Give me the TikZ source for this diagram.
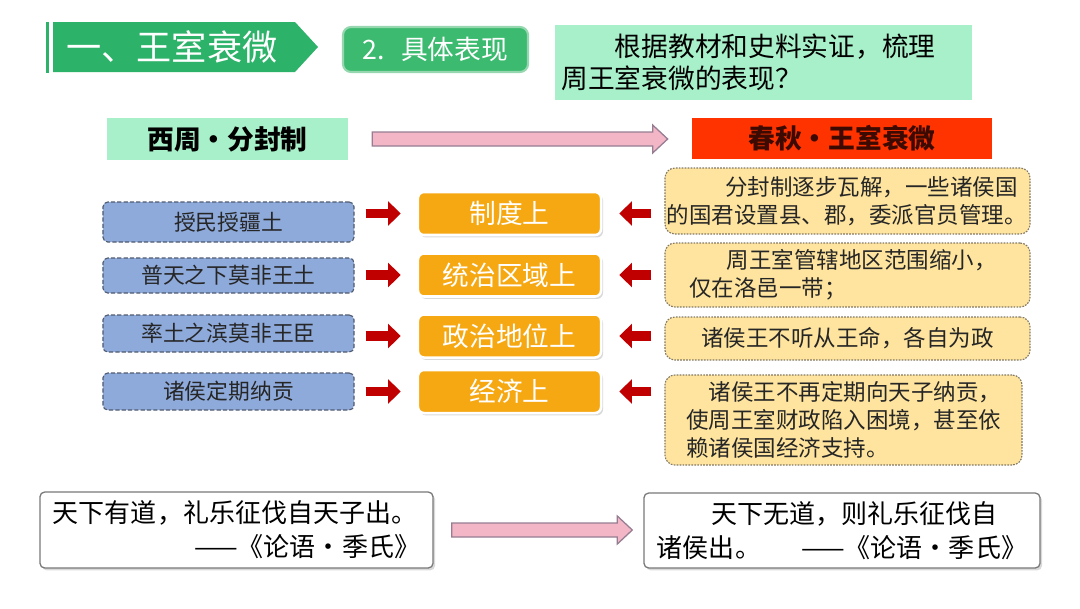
\documentclass[tikz,border=0pt]{standalone}
\usepackage{fontspec}
\setmainfont{Noto Sans CJK SC}
\usetikzlibrary{positioning}
\usetikzlibrary{shapes}
\usetikzlibrary{calc}
\usetikzlibrary{shadows}
\usetikzlibrary{arrows.meta}

\definecolor{hdrgreen}{RGB}{44,178,105}
\definecolor{btngreen}{RGB}{60,186,112}
\definecolor{btnline}{RGB}{150,215,175}
\definecolor{mint}{RGB}{168,240,201}
\definecolor{erared}{RGB}{255,51,0}
\definecolor{eratext}{RGB}{60,10,0}
\definecolor{bluefill}{RGB}{142,170,219}
\definecolor{blueline}{RGB}{80,90,110}
\definecolor{orgfill}{RGB}{246,168,18}
\definecolor{yelfill}{RGB}{254,228,158}
\definecolor{yelline}{RGB}{130,120,100}
\definecolor{arrred}{RGB}{192,0,0}
\definecolor{pinkfill}{RGB}{242,182,199}
\definecolor{pinkline}{RGB}{150,125,145}
\definecolor{quoline}{RGB}{120,120,120}

\begin{document}
\begin{tikzpicture}[x=0.025cm, y=-0.025cm,
redarr/.style={draw=arrred, line width=7pt, -{Triangle[length=9pt,width=17pt]}},
fat/.style 2 args={draw=pinkline, fill=pinkfill, line width=0.9pt,
  to path={let \p1=(\tikztostart), \p2=(\tikztotarget) in
    (\x1+#1,\y1+0.175cm) -- (\x2-#2-0.375cm,\y1+0.175cm) -- (\x2-#2-0.375cm,\y1+0.35cm)
    -- (\x2-#2,\y1) -- (\x2-#2-0.375cm,\y1-0.35cm) -- (\x2-#2-0.375cm,\y1-0.175cm)
    -- (\x1+#1,\y1-0.175cm) -- cycle}}
]

\tikzstyle{btn} = [fill=btngreen, draw=btnline, line width=1.5pt, rounded corners=0.2cm, minimum width=4.625cm, minimum height=1.125cm, text=white, font=\fontsize{19pt}{22pt}\selectfont]
\tikzstyle{ask} = [fill=mint, align=left, text width=10.1cm, inner xsep=0.1625cm, minimum height=1.875cm, font=\fontsize{19pt}{23pt}\selectfont]
\tikzstyle{lab} = [fill=mint, minimum width=6.025cm, minimum height=1.05cm, font=\bfseries\fontsize{19pt}{23pt}\selectfont]
\tikzstyle{era} = [fill=erared, minimum width=7.5cm, minimum height=1.025cm, text=eratext, font=\bfseries\fontsize{19pt}{23pt}\selectfont]
\tikzstyle{blu} = [fill=bluefill, draw=blueline, dash pattern=on 3pt off 1.5pt, line width=0.8pt, rounded corners=0.12cm, minimum width=6.275cm, minimum height=0.925cm, text=black!85, font=\fontsize{15.5pt}{18pt}\selectfont]
\tikzstyle{org} = [fill=orgfill, draw=white, line width=1.8pt, rounded corners=0.15cm, minimum width=4.575cm, minimum height=1.075cm, text=white, drop shadow={shadow xshift=0.05cm, shadow yshift=-0.06cm, opacity=0.3}, font=\fontsize{19pt}{23pt}\selectfont]
\tikzstyle{yel} = [fill=yelfill, draw=yelline, dash pattern=on 1.2pt off 0.9pt, line width=0.8pt, rounded corners=0.25cm, inner xsep=0.05cm, text=black!85, font=\fontsize{16pt}{20pt}\selectfont]
\tikzstyle{quo} = [fill=white, draw=quoline, line width=0.9pt, rounded corners=0.12cm, align=left, inner xsep=0.325cm, drop shadow={shadow xshift=0.05cm, shadow yshift=-0.06cm, opacity=0.3}, font=\fontsize{18.5pt}{24pt}\selectfont]

\useasboundingbox (0,0) rectangle (1080,608);

% title banner
\fill[hdrgreen] (46,22) rectangle (49,73);
\fill[hdrgreen] (53,22) -- (295,22) -- (318,47) -- (295,72) -- (53,72) -- cycle;
\node[text=white, font=\fontsize{25pt}{30pt}\selectfont] (title) at (172,47) {一、王室衰微};

\node[btn] (btn) at (435.5,49.5) {2.\hspace{0.6em}具体表现};
\node[ask] (ask) at (763.5,62.5) {\hspace*{2em}根据教材和史料实证，梳理\\周王室衰微的表现？};

% two periods
\node[lab] (lab) at (227.5,139) {西周・分封制};
\node[era] (cq) at (842,138.5) {春秋・王室衰微};
\draw[fat={0.6cm}{0.6cm}] (lab.east) to (cq.west);

% left column
\node[blu, minimum height=1cm] (b1) at (228.5,222) {授民授疆土};
\node[blu, minimum height=0.875cm] (b2) at (228.5,275.5) {普天之下莫非王土};
\node[blu] (b3) at (228.5,333.5) {率土之滨莫非王臣};
\node[blu] (b4) at (228.5,391.5) {诸侯定期纳贡};

% middle column
\node[org] (o1) at (509.5,213.5) {制度上};
\node[org] (o2) at (509.5,275) {统治区域上};
\node[org] (o3) at (509.5,336) {政治地位上};
\node[org] (o4) at (509.5,391.5) {经济上};

% right column
\node[yel, align=left, text width=9.025cm, minimum height=1.65cm] (y1) at (847.5,201)
  {\hspace*{2.6em}分封制逐步瓦解，一些诸侯国\\的国君设置县、郡，委派官员管理。};
\node[yel, align=left, text width=9.025cm, minimum height=1.6cm] (y2) at (847.5,275)
  {\hspace*{2.65em}周王室管辖地区范围缩小，\\\hspace*{1em}仅在洛邑一带；};
\node[yel, minimum width=9.125cm, minimum height=1.075cm] (y3) at (847.5,338.5) {诸侯王不听从王命，各自为政};
\node[yel, align=left, minimum width=8.925cm, minimum height=2.25cm] (y4) at (843.5,420)
  {\hspace*{1em}诸侯王不再定期向天子纳贡，\\使周王室财政陷入困境，甚至依\\赖诸侯国经济支持。};

% arrows into the middle
\draw[redarr, shorten <=0.275cm, shorten >=0.4cm] (b1.east |- o1) -- (o1.west);
\draw[redarr, shorten <=0.275cm, shorten >=0.4cm] (b2.east |- o2) -- (o2.west);
\draw[redarr, shorten <=0.275cm, shorten >=0.4cm] (b3.east |- o3) -- (o3.west);
\draw[redarr, shorten <=0.275cm, shorten >=0.4cm] (b4.east |- o4) -- (o4.west);
\draw[redarr, shorten <=0.325cm, shorten >=0.425cm] (y1.west |- o1) -- (o1.east);
\draw[redarr, shorten <=0.325cm, shorten >=0.425cm] (y2.west |- o2) -- (o2.east);
\draw[redarr, shorten <=0.325cm, shorten >=0.425cm] (y3.west |- o3) -- (o3.east);
\draw[redarr, shorten <=0.325cm, shorten >=0.425cm] (y4.west |- o4) -- (o4.east);

% quotations
\node[quo, text width=9.175cm, minimum height=1.9cm] (q1) at (236.5,530)
  {天下有道，礼乐征伐自天子出。\\\mbox{}\hfill——《论语・季氏》};
\node[quo, text width=9.25cm, minimum height=1.875cm] (q2) at (842,530.5)
  {\hspace*{2.1em}天下无道，则礼乐征伐自\\诸侯出。\hfill——《论语・季氏》};
\draw[fat={0.45cm}{0.275cm}] (q1.east) to (q2.west);
\end{tikzpicture}
\end{document}
